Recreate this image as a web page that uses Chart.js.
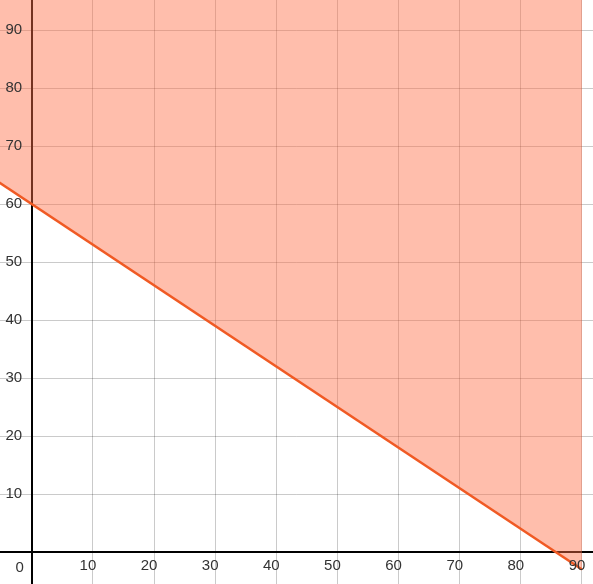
<!DOCTYPE html>
<html><head><meta charset="utf-8">
<script src="https://cdn.jsdelivr.net/npm/chart.js@4"></script>
<style>html,body{margin:0;padding:0;background:#fff}#w{width:593px;height:584px}</style>
</head><body><div id="w"><canvas id="c"></canvas></div>
<script>
const lineX = [-6, 90];
const lineY = [64.2, -3];
const xTicks = [0,10,20,30,40,50,60,70,80,90];
const yTicks = [0,10,20,30,40,50,60,70,80,90];

const labels = {
  id:'labels',
  afterDraw(ch){
    const c=ch.ctx, xs=ch.scales.x, ys=ch.scales.y;
    c.save();
    c.font='15px "Liberation Sans", Arial, sans-serif';
    c.fillStyle='#333';
    c.textBaseline='middle';
    c.textAlign='center';
    const x0=xs.getPixelForValue(0), y0=ys.getPixelForValue(0);
    yTicks.forEach(v=>{ if(v===0) return; c.fillText(String(v), x0-18, ys.getPixelForValue(v)); });
    xTicks.forEach(v=>{ if(v===0) return; c.fillText(String(v), xs.getPixelForValue(v)-5, y0+14); });
    c.fillText('0', x0-12, y0+16);
    c.restore();
  }
};

new Chart(document.getElementById('c'),{
  type:'line',
  data:{datasets:[{data:lineX.map((x,i)=>({x,y:lineY[i]})),
    borderColor:'#f05a24',borderWidth:2.5,pointRadius:0,
    fill:'end',backgroundColor:'rgba(255,110,70,0.45)'}]},
  options:{
    responsive:true,maintainAspectRatio:false,animation:false,
    layout:{padding:0},
    plugins:{legend:{display:false},tooltip:{enabled:false}},
    scales:{
      x:{type:'linear',min:-5.2,max:91.8,display:true,
        afterBuildTicks(s){s.ticks=xTicks.map(v=>({value:v}));},
        ticks:{display:false},border:{display:false},
        grid:{drawTicks:false,color:c=>c.tick&&c.tick.value===0?'#000':'rgba(0,0,0,0.3)',
              lineWidth:c=>c.tick&&c.tick.value===0?2:0.7}},
      y:{type:'linear',min:-5.5,max:95.2,display:true,
        afterBuildTicks(s){s.ticks=yTicks.map(v=>({value:v}));},
        ticks:{display:false},border:{display:false},
        grid:{drawTicks:false,color:c=>c.tick&&c.tick.value===0?'#000':'rgba(0,0,0,0.3)',
              lineWidth:c=>c.tick&&c.tick.value===0?2:0.7}}
    }
  },
  plugins:[labels]
});
</script></body></html>
